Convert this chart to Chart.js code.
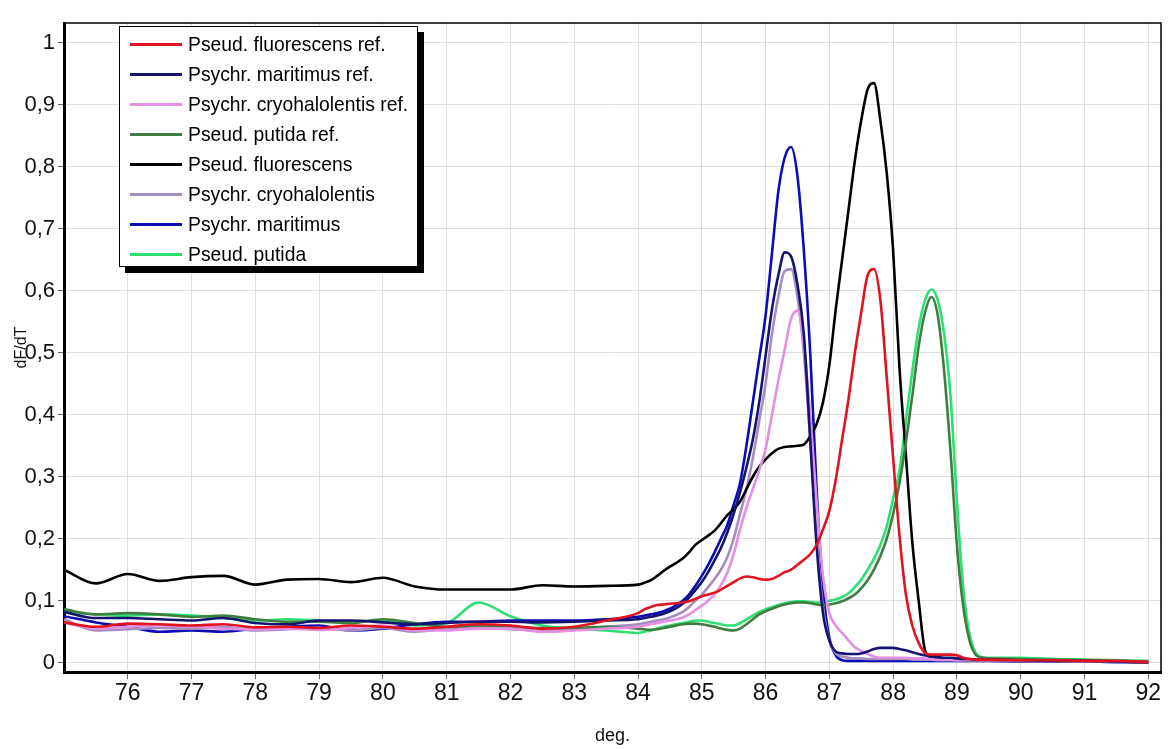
<!DOCTYPE html>
<html>
<head>
<meta charset="utf-8">
<script src="https://cdn.jsdelivr.net/npm/chart.js@4"></script>
<style>
  body { margin: 0; background: #fff; }
  #wrap { position: relative; width: 1174px; height: 749px; }
  #legend {
    position: absolute; left: 119px; top: 26px; width: 297px; height: 239px;
    background: #fff; border: 1px solid #000; box-shadow: 6px 6px 0 #000;
    font-family: "Liberation Sans Narrow", "Arial Narrow", "Liberation Sans", sans-serif;
    font-size: 21px; color: #000;
  }
  #legend .row { position: relative; height: 30px; line-height: 30px; padding-left: 68px; white-space: nowrap; }
  #legend .row:first-child { margin-top: 2px; }
  #legend .row span.txt { display: inline-block; transform: scaleX(0.92); transform-origin: left center; }
  #legend .swatch { position: absolute; left: 10px; top: 14px; width: 52px; height: 3px; }
</style>
</head>
<body>
<div id="wrap">
  <canvas id="chart"></canvas>
  <div id="legend"></div>
</div>
<script>
const temps = [75, 75.5, 76, 76.5, 77, 77.5, 78, 78.5, 79, 79.5, 80, 80.5, 81, 81.5, 82, 82.5, 83, 83.5,
  84.0, 84.1, 84.2, 84.3, 84.4, 84.5, 84.6, 84.7, 84.8, 84.9,
  85.0, 85.1, 85.2, 85.3, 85.4, 85.5, 85.6, 85.7, 85.8, 85.9,
  86.0, 86.1, 86.2, 86.3, 86.4, 86.5, 86.6, 86.7, 86.8, 86.9,
  87.0, 87.1, 87.2, 87.3, 87.4, 87.5, 87.6, 87.7, 87.8, 87.9,
  88.0, 88.1, 88.2, 88.3, 88.4, 88.5, 88.6, 88.7, 88.8, 88.9,
  89.0, 89.1, 89.2, 89.3, 89.4, 89.5,
  90, 90.5, 91, 91.5, 92];

const fluoRef = [0.065,0.058,0.063,0.062,0.060,0.062,0.057,0.058,0.056,0.060,0.058,0.055,0.058,0.062,0.060,0.055,0.058,0.068,
  0.080,0.086,0.090,0.093,0.094,0.095,0.096,0.097,0.099,0.103,
  0.107,0.110,0.113,0.118,0.124,0.130,0.136,0.139,0.138,0.135,
  0.134,0.135,0.140,0.146,0.150,0.158,0.166,0.175,0.190,0.215,
  0.245,0.295,0.360,0.425,0.500,0.565,0.625,0.635,0.585,0.460,
  0.330,0.205,0.110,0.060,0.032,0.016,0.013,0.013,0.013,0.013,
  0.012,0.008,0.006,0.005,0.005,0.005,
  0.004,0.004,0.003,0.003,0.001];

const mariRef = [0.082,0.072,0.072,0.070,0.068,0.072,0.064,0.062,0.068,0.068,0.065,0.062,0.064,0.066,0.066,0.065,0.066,0.068,
  0.070,0.072,0.074,0.076,0.079,0.083,0.088,0.095,0.105,0.117,
  0.130,0.146,0.165,0.185,0.210,0.240,0.275,0.315,0.360,0.420,
  0.495,0.570,0.625,0.662,0.655,0.610,0.530,0.360,0.190,0.080,
  0.036,0.018,0.015,0.014,0.014,0.015,0.018,0.022,0.024,0.024,
  0.024,0.022,0.020,0.017,0.014,0.012,0.010,0.009,0.008,0.008,
  0.007,0.006,0.006,0.005,0.005,0.005,
  0.004,0.003,0.003,0.002,0.001];

const cryoRef = [0.065,0.055,0.058,0.060,0.058,0.055,0.054,0.055,0.053,0.056,0.060,0.052,0.052,0.055,0.055,0.050,0.052,0.055,
  0.058,0.060,0.062,0.064,0.066,0.068,0.070,0.073,0.078,0.085,
  0.092,0.100,0.110,0.125,0.145,0.175,0.215,0.250,0.280,0.310,
  0.345,0.400,0.455,0.505,0.555,0.568,0.515,0.400,0.260,0.140,
  0.080,0.060,0.048,0.036,0.025,0.019,0.014,0.010,0.008,0.008,
  0.008,0.008,0.008,0.007,0.007,0.007,0.006,0.005,0.005,0.005,
  0.004,0.004,0.004,0.004,0.004,0.004,
  0.003,0.003,0.002,0.002,0.001];

const putidaRef = [0.086,0.078,0.080,0.078,0.074,0.076,0.070,0.066,0.066,0.064,0.070,0.064,0.058,0.060,0.058,0.056,0.056,0.058,
  0.055,0.054,0.053,0.054,0.056,0.058,0.060,0.062,0.063,0.063,
  0.062,0.060,0.058,0.055,0.053,0.052,0.055,0.062,0.070,0.078,
  0.083,0.087,0.091,0.094,0.096,0.097,0.097,0.096,0.094,0.093,
  0.094,0.096,0.099,0.104,0.110,0.120,0.133,0.150,0.172,0.200,
  0.240,0.290,0.355,0.430,0.510,0.565,0.590,0.560,0.470,0.340,
  0.190,0.090,0.035,0.012,0.008,0.007,
  0.006,0.005,0.004,0.003,0.002];

const fluo = [0.150,0.128,0.143,0.132,0.138,0.140,0.126,0.134,0.135,0.130,0.137,0.123,0.118,0.118,0.118,0.125,0.123,0.124,
  0.126,0.129,0.133,0.140,0.148,0.155,0.161,0.168,0.178,0.190,
  0.198,0.205,0.213,0.225,0.238,0.248,0.260,0.280,0.300,0.316,
  0.328,0.338,0.345,0.348,0.349,0.350,0.352,0.365,0.385,0.420,
  0.480,0.570,0.650,0.730,0.810,0.875,0.925,0.935,0.875,0.790,
  0.665,0.475,0.335,0.195,0.100,0.020,0.008,0.006,0.006,0.005,
  0.005,0.005,0.004,0.004,0.004,0.004,
  0.003,0.003,0.002,0.002,0.000];

const cryo = [0.070,0.052,0.054,0.056,0.055,0.058,0.052,0.054,0.056,0.052,0.056,0.050,0.055,0.058,0.054,0.052,0.054,0.058,
  0.062,0.064,0.066,0.068,0.070,0.073,0.077,0.082,0.090,0.100,
  0.110,0.122,0.135,0.150,0.170,0.200,0.240,0.280,0.330,0.390,
  0.450,0.530,0.590,0.632,0.635,0.590,0.500,0.360,0.200,0.090,
  0.035,0.015,0.010,0.008,0.007,0.007,0.006,0.006,0.006,0.006,
  0.006,0.006,0.006,0.005,0.005,0.005,0.005,0.004,0.004,0.004,
  0.004,0.004,0.004,0.003,0.003,0.003,
  0.003,0.002,0.002,0.002,0.001];

const mari = [0.075,0.065,0.058,0.050,0.052,0.050,0.055,0.058,0.060,0.052,0.055,0.062,0.066,0.066,0.068,0.068,0.068,0.070,
  0.074,0.076,0.078,0.080,0.083,0.087,0.093,0.100,0.110,0.124,
  0.140,0.158,0.178,0.200,0.222,0.255,0.290,0.350,0.420,0.490,
  0.560,0.660,0.760,0.815,0.832,0.785,0.665,0.500,0.280,0.120,
  0.040,0.012,0.004,0.003,0.003,0.003,0.003,0.003,0.003,0.003,
  0.003,0.003,0.003,0.003,0.003,0.003,0.003,0.003,0.003,0.003,
  0.003,0.003,0.003,0.003,0.003,0.003,
  0.002,0.002,0.002,0.001,0.001];

const putida = [0.082,0.078,0.076,0.078,0.076,0.072,0.068,0.070,0.068,0.066,0.068,0.060,0.064,0.097,0.075,0.060,0.055,0.052,
  0.048,0.050,0.052,0.055,0.058,0.060,0.062,0.064,0.066,0.068,
  0.068,0.066,0.064,0.062,0.060,0.060,0.064,0.070,0.076,0.082,
  0.086,0.090,0.093,0.096,0.098,0.099,0.099,0.098,0.097,0.098,
  0.100,0.102,0.106,0.112,0.122,0.134,0.150,0.168,0.190,0.220,
  0.265,0.310,0.390,0.470,0.540,0.585,0.602,0.585,0.530,0.430,
  0.260,0.120,0.045,0.015,0.009,0.008,
  0.008,0.006,0.005,0.004,0.003];

const seriesNames = ['Pseud. fluorescens ref.', 'Psychr. maritimus ref.', 'Psychr. cryohalolentis ref.', 'Pseud. putida ref.',
  'Pseud. fluorescens', 'Psychr. cryohalolentis', 'Psychr. maritimus', 'Pseud. putida'];
const seriesValues = [fluoRef, mariRef, cryoRef, putidaRef, fluo, cryo, mari, putida];
const seriesColors = ['#e0141e', '#14146e', '#e48ee4', '#3e7e40', '#000000', '#a68cc0', '#0c0cb4', '#2ee072'];

const xTicks = [76, 77, 78, 79, 80, 81, 82, 83, 84, 85, 86, 87, 88, 89, 90, 91, 92];
const yTicks = [0, 0.1, 0.2, 0.3, 0.4, 0.5, 0.6, 0.7, 0.8, 0.9, 1];

const FONT = '"Liberation Sans Narrow", "Arial Narrow", "Liberation Sans", sans-serif';

const datasets = seriesNames.map((name, i) => ({
  label: name,
  data: temps.map((t, j) => ({ x: t, y: seriesValues[i][j] })),
  borderColor: seriesColors[i],
  backgroundColor: seriesColors[i],
  borderWidth: 2.6,
  pointRadius: 0,
  cubicInterpolationMode: 'monotone',
  fill: false
}));

const frame = {
  id: 'frame',
  afterDraw(chart) {
    const a = chart.chartArea, ctx = chart.ctx;
    ctx.save();
    ctx.strokeStyle = '#000';
    ctx.lineWidth = 1.5;
    ctx.beginPath();
    ctx.moveTo(a.left, a.top);
    ctx.lineTo(a.right, a.top);
    ctx.lineTo(a.right, a.bottom);
    ctx.stroke();
    ctx.restore();
  }
};

const chart = new Chart(document.getElementById('chart'), {
  type: 'line',
  data: { datasets: datasets },
  options: {
    responsive: true,
    maintainAspectRatio: false,
    animation: false,
    layout: { padding: { top: 23, right: 13, left: 0, bottom: 0 } },
    plugins: {
      legend: { display: false },
      tooltip: { enabled: false }
    },
    scales: {
      x: {
        type: 'linear',
        min: 75.0,
        max: 92.2,
        afterBuildTicks: ax => { ax.ticks = xTicks.map(v => ({ value: v })); },
        afterFit: s => { s.height = 77; },
        ticks: {
          color: '#111',
          padding: 1,
          maxRotation: 0,
          font: { family: FONT, size: 23 },
          callback: v => String(v)
        },
        grid: { color: '#dedede', tickLength: 7, tickColor: '#666' },
        border: { color: '#000', width: 3 },
        title: {
          display: true,
          text: 'deg.',
          color: '#111',
          font: { family: FONT, size: 18 },
          padding: { top: 0, bottom: 2 }
        }
      },
      y: {
        min: -0.015,
        max: 1.032,
        afterBuildTicks: ax => { ax.ticks = yTicks.map(v => ({ value: v })); },
        afterFit: s => { s.width = 64; },
        ticks: {
          color: '#111',
          padding: 3,
          font: { family: FONT, size: 22 },
          callback: v => String(v).replace('.', ',')
        },
        grid: { color: '#dedede', tickLength: 6, tickColor: '#666' },
        border: { color: '#000', width: 3 },
        title: {
          display: true,
          text: 'dF/dT',
          color: '#111',
          font: { family: FONT, size: 16 },
          padding: { top: 12, bottom: 0 }
        }
      }
    }
  },
  plugins: [frame]
});

const legendEl = document.getElementById('legend');
chart.data.datasets.forEach(ds => {
  const row = document.createElement('div');
  row.className = 'row';
  const sw = document.createElement('span');
  sw.className = 'swatch';
  sw.style.background = ds.borderColor;
  const txt = document.createElement('span');
  txt.className = 'txt';
  txt.textContent = ds.label;
  row.appendChild(sw);
  row.appendChild(txt);
  legendEl.appendChild(row);
});
</script>
</body>
</html>
